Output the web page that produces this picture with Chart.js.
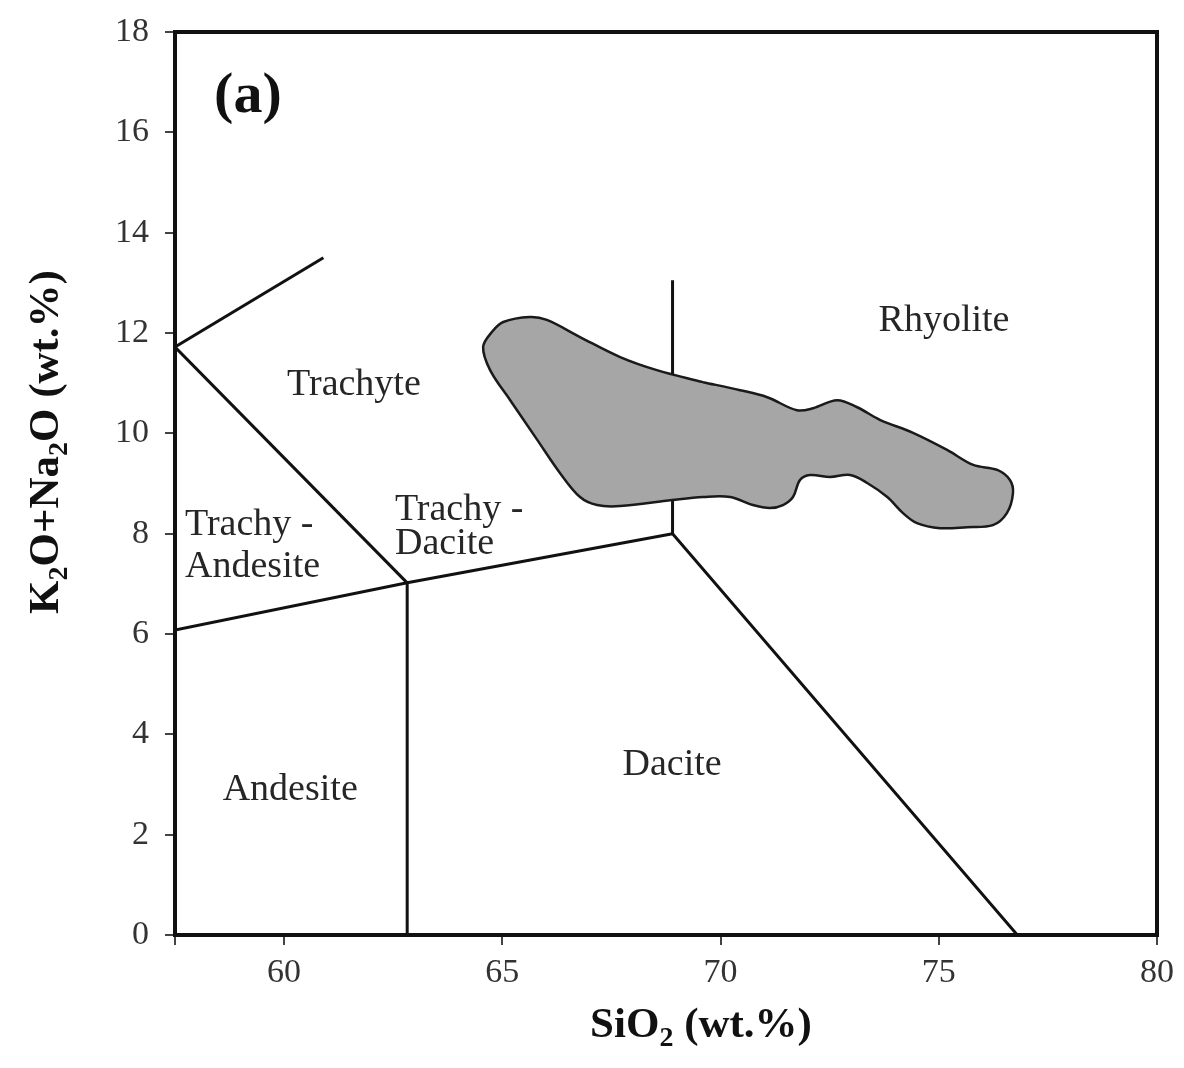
<!doctype html>
<html>
<head>
  <meta charset="utf-8" />
  <title>TAS diagram (a)</title>
  <style>
    html, body { margin: 0; padding: 0; background: #fff; }
    .wrap { width: 1184px; height: 1068px; position: relative; }
    canvas { display: block; }
  </style>
</head>
<body>
  <div class="wrap">
    <canvas id="chart" width="1184" height="1068"></canvas>
  </div>

  <script src="https://cdn.jsdelivr.net/npm/chart.js@4.4.1/dist/chart.umd.min.js"></script>
  <script>
    // axis ranges / tick labels
    const xTicks = [57.5, 60, 65, 70, 75, 80];
    const yTicks = [0, 2, 4, 6, 8, 10, 12, 14, 16, 18];

    // TAS field boundaries (SiO2, K2O+Na2O), as drawn in the figure
    const lineTrachyteTop = [[57.5, 11.72], [60.9, 13.5]];
    const lineTrachyteBase = [[57.5, 11.72], [62.82, 7.02]];
    const lineTrachyBase = [[57.5, 6.08], [62.82, 7.02], [68.9, 8.0]];
    const lineAndesiteDacite = [[62.82, 0], [62.82, 7.02]];
    const lineRhyolite = [[68.9, 13.05], [68.9, 8.0], [76.8, 0]];

    // outline of the grey sample field, traced clockwise
    const fieldX = [69.60, 70.45, 71.07, 71.75, 72.12, 72.67, 73.13, 73.65, 74.41, 75.19, 75.79, 76.34, 76.63, 76.70,
      76.56, 76.24, 75.65, 75.03, 74.50, 74.18, 73.82, 73.36, 72.97, 72.51, 72.05, 71.82, 71.66, 71.43, 71.13, 70.74,
      70.22, 69.60, 68.89, 67.70, 67.17, 66.78, 66.32, 65.80, 65.18, 64.72, 64.56, 64.76, 65.02, 65.63, 66.02, 66.78,
      67.70, 68.54, 69.60];
    const fieldY = [11.02, 10.86, 10.72, 10.46, 10.50, 10.66, 10.52, 10.27, 10.01, 9.67, 9.37, 9.27, 9.07, 8.81,
      8.41, 8.17, 8.13, 8.11, 8.21, 8.41, 8.73, 9.01, 9.17, 9.13, 9.17, 9.07, 8.73, 8.57, 8.51, 8.57,
      8.73, 8.73, 8.67, 8.55, 8.57, 8.73, 9.21, 9.87, 10.66, 11.26, 11.72, 12.02, 12.22, 12.32, 12.26, 11.92,
      11.52, 11.26, 11.02];

    // rock names: [text, x, baseline y, align]
    const regionLabels = [
      ['Trachyte', 61.60, 10.76, 'center'],
      ['Rhyolite', 75.12, 12.04, 'center'],
      ['Trachy -', 57.73, 7.97, 'left'],
      ['Andesite', 57.73, 7.14, 'left'],
      ['Trachy -', 62.54, 8.27, 'left'],
      ['Dacite', 62.54, 7.59, 'left'],
      ['Dacite', 68.89, 3.19, 'center'],
      ['Andesite', 60.14, 2.69, 'center']
    ];

    const SERIF = '"Liberation Serif", "Times New Roman", serif';

    const toPts = (arr) => arr.map(([x, y]) => ({ x, y }));
    const lineSet = (arr) => ({
      data: toPts(arr),
      showLine: true,
      borderColor: '#111',
      borderWidth: 3,
      pointRadius: 0,
      fill: false,
      tension: 0
    });

    // draw text with subscript parts, e.g. [['SiO'], ['2', true], [' (wt.%)']]
    function drawRich(ctx, parts, size, x, y) {
      const widths = parts.map(([t, sub]) => {
        ctx.font = 'bold ' + (sub ? size * 0.65 : size) + 'px ' + SERIF;
        return ctx.measureText(t).width;
      });
      const total = widths.reduce((a, b) => a + b, 0);
      let cx = x - total / 2;
      parts.forEach(([t, sub], i) => {
        ctx.font = 'bold ' + (sub ? size * 0.65 : size) + 'px ' + SERIF;
        ctx.fillText(t, cx, sub ? y + size * 0.22 : y);
        cx += widths[i];
      });
    }

    const decorPlugin = {
      id: 'decor',
      afterDatasetsDraw(chart) {
        const { ctx, chartArea: a, scales: { x, y } } = chart;
        ctx.save();
        // frame
        ctx.strokeStyle = '#111';
        ctx.lineWidth = 4;
        ctx.strokeRect(a.left, a.top, a.right - a.left, a.bottom - a.top);

        // region names
        ctx.fillStyle = '#262626';
        ctx.font = '38px ' + SERIF;
        ctx.textBaseline = 'alphabetic';
        for (const [t, vx, vy, align] of regionLabels) {
          ctx.textAlign = align;
          ctx.fillText(t, x.getPixelForValue(vx), y.getPixelForValue(vy));
        }

        // panel letter
        ctx.fillStyle = '#111';
        ctx.textAlign = 'center';
        ctx.font = 'bold 58px ' + SERIF;
        ctx.fillText('(a)', x.getPixelForValue(59.17), y.getPixelForValue(16.40));

        // axis titles
        ctx.textAlign = 'left';
        drawRich(ctx, [['SiO'], ['2', true], [' (wt.%)']], 43, (a.left + a.right) / 2 + 35, 1037);
        ctx.translate(58, 442);
        ctx.rotate(-Math.PI / 2);
        drawRich(ctx, [['K'], ['2', true], ['O+Na'], ['2', true], ['O (wt.%)']], 43, 0, 0);
        ctx.restore();
      }
    };

    const tickFont = { family: SERIF, size: 34 };

    new Chart(document.getElementById('chart').getContext('2d'), {
      type: 'scatter',
      data: {
        datasets: [
          {
            data: fieldX.map((vx, i) => ({ x: vx, y: fieldY[i] })),
            showLine: true,
            borderColor: '#1a1a1a',
            borderWidth: 2.5,
            backgroundColor: '#a6a6a6',
            fill: 'shape',
            tension: 0.35,
            pointRadius: 0
          },
          lineSet(lineTrachyteTop),
          lineSet(lineTrachyteBase),
          lineSet(lineTrachyBase),
          lineSet(lineAndesiteDacite),
          lineSet(lineRhyolite)
        ]
      },
      options: {
        responsive: false,
        animation: false,
        layout: { padding: { top: 32, right: 27, left: 0, bottom: 0 } },
        plugins: { legend: { display: false }, tooltip: { enabled: false } },
        scales: {
          x: {
            type: 'linear',
            min: 57.5,
            max: 80,
            afterBuildTicks: (s) => { s.ticks = xTicks.map(v => ({ value: v })); },
            afterFit: (s) => { s.height = 133; },
            border: { display: false },
            grid: { drawOnChartArea: false, drawTicks: true, tickLength: 10, color: '#444', lineWidth: 2 },
            ticks: {
              font: tickFont,
              color: '#333',
              padding: 8,
              maxRotation: 0,
              autoSkip: false,
              callback: (v) => (v === 57.5 ? '' : v)
            }
          },
          y: {
            type: 'linear',
            min: 0,
            max: 18,
            afterBuildTicks: (s) => { s.ticks = yTicks.map(v => ({ value: v })); },
            afterFit: (s) => { s.width = 175; s.paddingTop = 0; s.paddingBottom = 0; },
            border: { display: false },
            grid: { drawOnChartArea: false, drawTicks: true, tickLength: 10, color: '#444', lineWidth: 2 },
            ticks: { font: tickFont, color: '#333', padding: 16, autoSkip: false }
          }
        }
      },
      plugins: [decorPlugin]
    });
  </script>
</body>
</html>
